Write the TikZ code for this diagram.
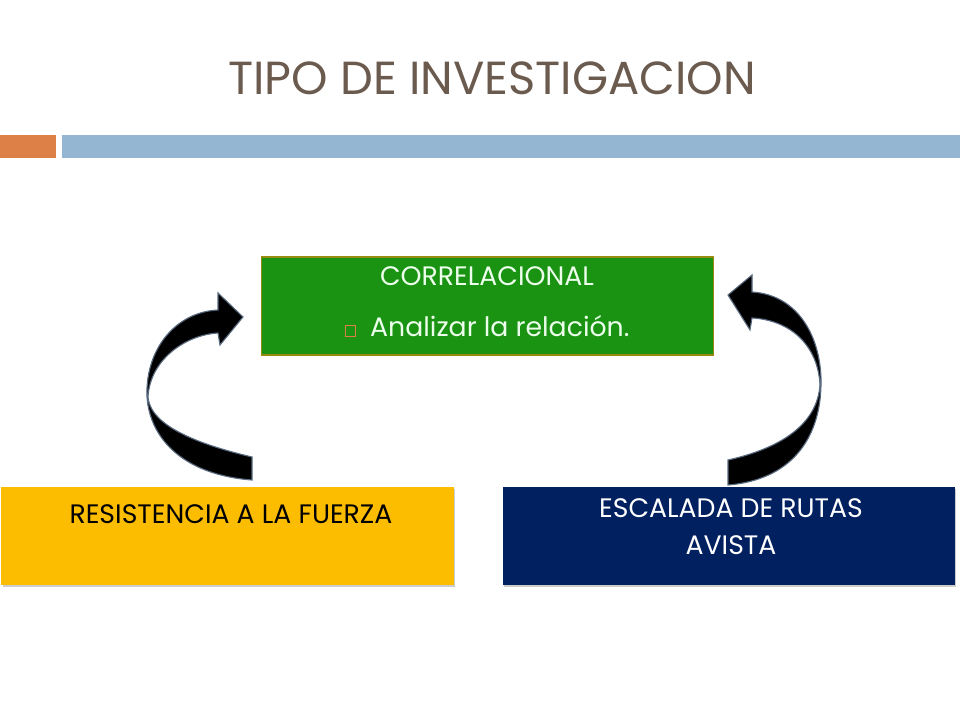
\documentclass[tikz,border=0pt]{standalone}
\usepackage{fontspec}
\setmainfont{Poppins}
\usepackage{xcolor}
\usetikzlibrary{shadows}
\definecolor{titlebrown}{HTML}{6B5A4E}
\definecolor{barorange}{HTML}{DD8048}
\definecolor{barblue}{HTML}{94B6D2}
\definecolor{boxgreen}{HTML}{1A9212}
\definecolor{boxyellow}{HTML}{FCBD00}
\definecolor{boxnavy}{HTML}{002060}
\definecolor{arrowedge}{HTML}{5A6A80}
\newcommand{\itembox}{\textcolor{barorange}{\fboxsep=0pt\fboxrule=0.6pt\fbox{\phantom{\rule{7pt}{7pt}}}}}
\tikzset{
  box/.style={minimum width=11.3cm, minimum height=2.45cm, inner sep=0pt},
  shadowbox/.style={box, drop shadow={shadow xshift=1pt, shadow yshift=-1.5pt, opacity=.4}},
  boxtext/.style={font=\fontsize{19}{26}\selectfont, align=center},
  bentarrow/.style={fill=black, draw=arrowedge, line width=0.8pt}
}
\begin{document}
\begin{tikzpicture}[x=0.025cm, y=-0.025cm]
	\useasboundingbox (0,0) rectangle (960,720);

	\fill[barorange] (0,135) rectangle (56,158);
	\fill[barblue] (62,135) rectangle (960,158);
	\path (492,78) node[text=titlebrown, font=\fontsize{33}{40}\selectfont] (title) {TIPO DE INVESTIGACION};

	\node[box, fill=boxgreen, draw=olive!80!brown, line width=1pt, minimum width=11.3cm] (correl) at (487.5,306) {};
	\node[boxtext, text=white!92!green, anchor=north] (correlhead) at (487,262) {CORRELACIONAL};
	\node[boxtext, text=white!92!green, anchor=north] (correlitem) at (487,310) {\itembox\hspace{10pt}Analizar la relación.};

	\node[shadowbox, fill=boxyellow] (fuerza) at (227.5,536) {};
	\node[boxtext, text=black, anchor=north] (fuerzatext) at (231,500) {RESISTENCIA A LA FUERZA};

	\node[shadowbox, fill=boxnavy] (rutas) at (729,536) {};
	\node[boxtext, text=white, anchor=north] (rutastext) at (731,494) {ESCALADA DE RUTAS\\AVISTA};

	% left bent arrow, from bottom up to the green box
	\filldraw[bentarrow] (252,457) .. controls (180,440) and (150,420) .. (148,397)
		.. controls (150,360) and (185,335) .. (218,333) -- (220,345) -- (243,317)
		-- (218,293) -- (218,310) .. controls (175,312) and (145,350) .. (147,397)
		.. controls (150,440) and (185,475) .. (252,480) -- cycle;
	% right bent arrow
	\filldraw[bentarrow] (728,460) .. controls (795,445) and (818,415) .. (820,385)
		.. controls (818,345) and (790,320) .. (752,318) -- (750,330) -- (728,295)
		-- (752,275) -- (752,292) .. controls (800,295) and (822,340) .. (821,385)
		.. controls (820,440) and (790,480) .. (728,485) -- cycle;
\end{tikzpicture}
\end{document}
